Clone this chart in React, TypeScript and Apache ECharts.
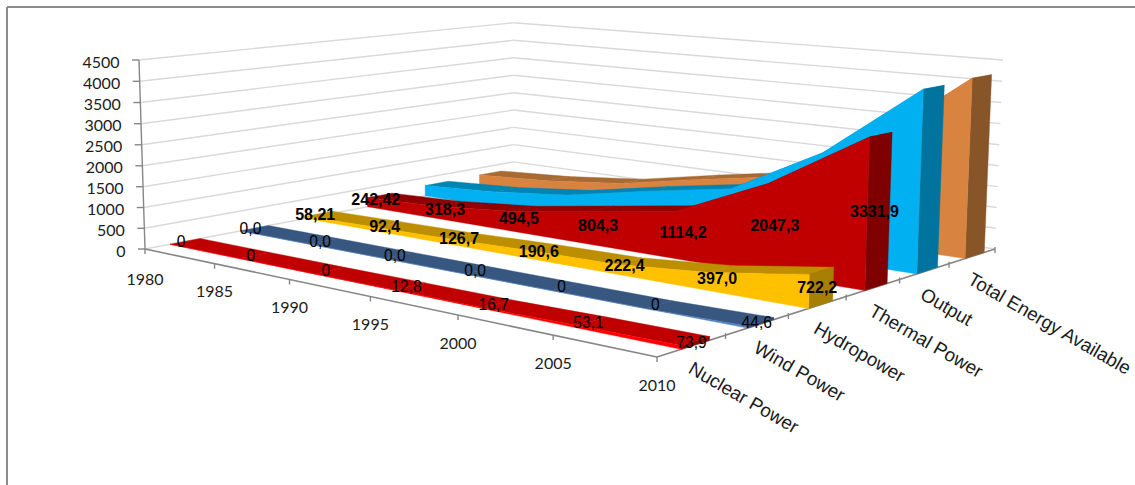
import React, { useEffect, useRef } from "react";
import * as echarts from "echarts";

// Electricity generation by source, 1980-2010, drawn as a 3D area chart.
const years = [1980, 1985, 1990, 1995, 2000, 2005, 2010];
const valueTicks = [0, 500, 1000, 1500, 2000, 2500, 3000, 3500, 4000, 4500];
const depthNames = ["Nuclear Power", "Wind Power", "Hydropower", "Thermal Power", "Output", "Total Energy Available"];

const nuclearPower = [0, 0, 0, 12.8, 16.7, 53.1, 73.9];
const nuclearLabels = ["0", "0", "0", "12,8", "16,7", "53,1", "73,9"];
const windPower = [0, 0, 0, 0, 0, 0, 44.6];
const windLabels = ["0,0", "0,0", "0,0", "0,0", "0", "0", "44,6"];
const hydropower = [58.21, 92.4, 126.7, 190.6, 222.4, 397.0, 722.2];
const hydroLabels = ["58,21", "92,4", "126,7", "190,6", "222,4", "397,0", "722,2"];
const thermalPower = [242.42, 318.3, 494.5, 804.3, 1114.2, 2047.3, 3331.9];
const thermalLabels = ["242,42", "318,3", "494,5", "804,3", "1114,2", "2047,3", "3331,9"];
const outputPower = [285, 400, 610, 1000, 1350, 2480, 4150];
const totalEnergy = [300, 415, 625, 1015, 1370, 2510, 4200];

const ribbons = [
  { values: nuclearPower, labels: nuclearLabels, front: "#FF0000", top: "#C00000", cap: "#8F0000", bold: false },
  { values: windPower, labels: windLabels, front: "#4F81BD", top: "#375780", cap: "#2C4766", bold: false },
  { values: hydropower, labels: hydroLabels, front: "#FFC000", top: "#BD8F00", cap: "#A67E00", bold: true },
  { values: thermalPower, labels: thermalLabels, front: "#C00000", top: "#8F0000", cap: "#7F0000", bold: true },
  { values: outputPower, labels: null, front: "#00B0F0", top: "#0084B4", cap: "#00739E", bold: false },
  { values: totalEnergy, labels: null, front: "#D98340", top: "#A86A33", cap: "#875528", bold: false },
];

// Perspective camera: solved from the corners of the chart's box on screen.
const cornerA = [145, 249];
const cornerB = [657, 357];
const cornerC = [995, 249];
const cornerD = [513.5, 179];
const topA = [139, 60];
const topC = [1003, 60];

function buildCamera() {
  const [x0, y0] = cornerA;
  const [x1, y1] = cornerB;
  const [x2, y2] = cornerC;
  const [x3, y3] = cornerD;
  const dx1 = x1 - x2;
  const dx2 = x3 - x2;
  const sx = x0 - x1 + x2 - x3;
  const dy1 = y1 - y2;
  const dy2 = y3 - y2;
  const sy = y0 - y1 + y2 - y3;
  const den = dx1 * dy2 - dx2 * dy1;
  const g = (sx * dy2 - dx2 * sy) / den;
  const h = (dx1 * sy - sx * dy1) / den;
  const a = x1 - x0 + g * x1;
  const b = x3 - x0 + h * x3;
  const d = y1 - y0 + g * y1;
  const e = y3 - y0 + h * y3;
  const r = (a + b + topA[0] - topC[0] * (g + h + 1)) / (topC[0] - topA[0]);
  const p = topA[0] * (1 + r) - x0;
  const q = topA[1] * (1 + r) - y0;
  return (u: number, v: number, w: number) => {
    const n = g * u + h * v + r * w + 1;
    return [(a * u + b * v + p * w + x0) / n, (d * u + e * v + q * w + y0) / n];
  };
}
const project = buildCamera();

const BAND_FRONT = 0.34;
const BAND_BACK = 0.76;
const cellCount = depthNames.length;
const bandFront = (i: number) => (i + BAND_FRONT) / cellCount;
const bandBack = (i: number) => (i + BAND_BACK) / cellCount;
const bandMid = (i: number) => (i + (BAND_FRONT + BAND_BACK) / 2) / cellCount;

// The hidden cartesian axes supply the scales; their output is normalised to the box.
function toBox(api: any, params: any, year: number, value: number) {
  const [px, py] = api.coord([year, value]);
  const r = params.coordSys;
  return [(px - r.x) / r.width, (r.y + r.height - py) / r.height];
}

const AXIS_COLOR = "#868686";
const GRID_COLOR = "#D9D9D9";
const AXIS_TEXT = "#1c1c1c";
const AXIS_FONT = '16px Lato, Carlito, sans-serif';
const DEPTH_FONT = '18.8px "Liberation Sans", Arial, sans-serif';

const line = (a: number[], b: number[], stroke: string, lineWidth: number) => ({
  type: "line",
  shape: { x1: a[0], y1: a[1], x2: b[0], y2: b[1] },
  style: { stroke, lineWidth },
});

const label = (x: number, y: number, text: string, font: string, fill: string, align: string, rotation = 0) => ({
  type: "text",
  x,
  y,
  rotation,
  style: { text, font, fill, align, verticalAlign: "middle", textAlign: align, textVerticalAlign: "middle" },
});

const polygon = (points: number[][], fill: string) => ({
  type: "polygon",
  shape: { points },
  style: { fill, stroke: fill, lineWidth: 0.4 },
});

function renderWalls(params: any, api: any) {
  const [, w] = toBox(api, params, years[0], api.value(1));
  const corner = project(0, 1, w);
  return {
    type: "group",
    children: [
      line(project(0, 0, w), corner, GRID_COLOR, 1.4),
      line(corner, project(1, 1, w), GRID_COLOR, 1.4),
    ],
  };
}

function renderValueAxis(params: any, api: any) {
  const [, w] = toBox(api, params, years[0], api.value(1));
  const p = project(0, 0, w);
  const children: any[] = [
    line([p[0] - 7, p[1]], p, AXIS_COLOR, 1.4),
    label(p[0] - 19.5, p[1] + 1, String(api.value(1)), AXIS_FONT, AXIS_TEXT, "right"),
  ];
  if (params.dataIndex === 0) {
    children.push(line(project(0, 0, 0), project(0, 0, 1), AXIS_COLOR, 1.4));
  }
  return { type: "group", children };
}

function renderYearAxis(params: any, api: any) {
  const [u] = toBox(api, params, api.value(0), 0);
  const p = project(u, 0, 0);
  const children: any[] = [
    line(p, [p[0], p[1] + 5], AXIS_COLOR, 1.4),
    label(p[0], p[1] + (params.dataIndex === 0 ? 29 : 27), String(api.value(0)), AXIS_FONT, AXIS_TEXT, "center"),
  ];
  if (params.dataIndex === 0) {
    children.push(line(project(0, 0, 0), project(1, 0, 0), AXIS_COLOR, 1.6));
    children.push(line(project(1, 0, 0), project(1, 1, 0), AXIS_COLOR, 1.6));
  }
  return { type: "group", children };
}

function renderDepthAxis(params: any, api: any) {
  const i = params.dataIndex;
  const tick = project(1, (i + 1) / cellCount, 0);
  const mid = project(1, bandMid(i), 0);
  return {
    type: "group",
    children: [
      line([tick[0], tick[1] - 2], [tick[0], tick[1] + 4], AXIS_COLOR, 1.4),
      label(mid[0] - 5, mid[1] + 22, depthNames[i], DEPTH_FONT, AXIS_TEXT, "left", (-30 * Math.PI) / 180),
    ],
  };
}

function renderRibbon(index: number) {
  const ribbon = ribbons[index];
  return (params: any, api: any) => {
    if (params.dataIndex !== 0) return null;
    const box = years.map((y, j) => toBox(api, params, y, ribbon.values[j]));
    const vf = bandFront(index);
    const vb = bandBack(index);
    const children: any[] = [];
    for (let j = 0; j < box.length - 1; j++) {
      children.push(
        polygon(
          [
            project(box[j][0], vf, box[j][1]),
            project(box[j + 1][0], vf, box[j + 1][1]),
            project(box[j + 1][0], vb, box[j + 1][1]),
            project(box[j][0], vb, box[j][1]),
          ],
          ribbon.top,
        ),
      );
    }
    const last = box[box.length - 1];
    children.push(
      polygon(
        [project(1, vf, 0), project(1, vb, 0), project(1, vb, last[1]), project(1, vf, last[1])],
        ribbon.cap,
      ),
    );
    children.push(
      polygon(
        [
          project(box[0][0], vf, 0),
          ...box.map(([u, w]) => project(u, vf, w)),
          project(last[0], vf, 0),
        ],
        ribbon.front,
      ),
    );
    return { type: "group", children };
  };
}

function renderRibbonLabel(index: number) {
  const ribbon = ribbons[index];
  const font = ribbon.bold ? 'bold 16px "Liberation Sans", Arial, sans-serif' : '15.6px "Liberation Sans", Arial, sans-serif';
  return (params: any, api: any) => {
    const [u, w] = toBox(api, params, api.value(0), api.value(1) / 2);
    const p = project(u, bandMid(index), w);
    return label(p[0] - 4, p[1], ribbon.labels![params.dataIndex], font, "#000000", "center");
  };
}

function buildOption() {
  const series: any[] = [
    { type: "custom", data: valueTicks.map((t) => [years[0], t]), renderItem: renderWalls, z: 1, silent: true },
    { type: "custom", data: valueTicks.map((t) => [years[0], t]), renderItem: renderValueAxis, z: 2, silent: true },
    { type: "custom", data: years.map((y) => [y, 0]), renderItem: renderYearAxis, z: 2, silent: true },
    { type: "custom", data: depthNames.map((_, i) => [years[0], i]), renderItem: renderDepthAxis, z: 2, silent: true },
  ];
  // Painted from the back of the box towards the viewer.
  for (let i = ribbons.length - 1; i >= 0; i--) {
    series.push({
      type: "custom",
      name: depthNames[i],
      data: years.map((y, j) => [y, ribbons[i].values[j]]),
      renderItem: renderRibbon(i),
      z: 3 + (ribbons.length - i),
      silent: true,
    });
    if (ribbons[i].labels) {
      series.push({
        type: "custom",
        data: years.map((y, j) => [y, ribbons[i].values[j]]),
        renderItem: renderRibbonLabel(i),
        z: 20,
        silent: true,
      });
    }
  }
  return {
    animation: false,
    backgroundColor: "#FFFFFF",
    grid: { left: 0, right: 0, top: 0, bottom: 0 },
    xAxis: { type: "value", min: 1980, max: 2010, interval: 5, show: false },
    yAxis: { type: "value", min: 0, max: 4500, interval: 500, show: false },
    series,
    graphic: [
      { type: "line", shape: { x1: 7, y1: 7, x2: 1135, y2: 7 }, style: { stroke: "#8C8C8C", lineWidth: 2 } },
      { type: "line", shape: { x1: 7, y1: 7, x2: 7, y2: 485 }, style: { stroke: "#8C8C8C", lineWidth: 2 } },
    ],
  };
}

export default function App() {
  const ref = useRef<HTMLDivElement>(null);
  useEffect(() => {
    const chart = echarts.init(ref.current!, undefined, { renderer: "svg" });
    chart.setOption(buildOption());
    return () => chart.dispose();
  }, []);
  return <div ref={ref} style={{ position: "absolute", left: 0, top: 0, width: 1135, height: 485 }} />;
}
